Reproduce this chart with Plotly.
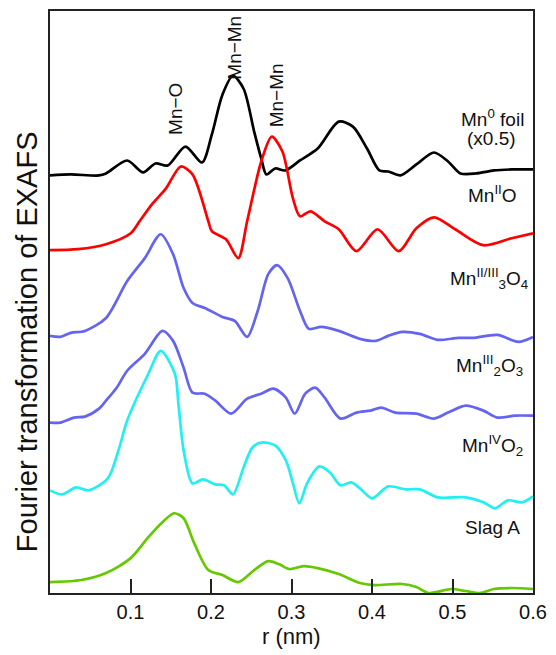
import plotly.graph_objects as go

# r (nm) values and FT magnitudes (arbitrary units, offset stacked)
r_foil = [0.0, 0.0258, 0.0609, 0.0696, 0.0959, 0.1156, 0.131, 0.1463, 0.1682, 0.1888, 0.201, 0.2142,
          0.2273, 0.2405, 0.2536, 0.2624, 0.2689, 0.2799, 0.2922, 0.3106, 0.3325, 0.3587, 0.3763,
          0.3938, 0.4091, 0.4201, 0.4354, 0.4551, 0.477, 0.4945, 0.5098, 0.5296, 0.5515, 0.5734, 0.6]
y_foil = [419, 420, 419, 421, 434, 422, 431, 429, 448, 432, 460, 500,
          519, 506, 463, 436, 420, 426, 424, 434, 446, 473, 468,
          446, 424, 423, 419, 430, 442, 433, 421, 421, 424, 425, 425]

r_mno = [0.0, 0.0346, 0.0696, 0.1003, 0.1113, 0.1266, 0.1441, 0.1625, 0.177, 0.1967, 0.201, 0.2186,
         0.2339, 0.2449, 0.2624, 0.2755, 0.2887, 0.3018, 0.3106, 0.3237, 0.3412, 0.3587, 0.3806,
         0.4069, 0.4332, 0.4551, 0.477, 0.5033, 0.5383, 0.5734, 0.6]
y_mno = [344, 345, 350, 361, 373, 390, 406, 428, 420, 373, 363, 355,
         336, 373, 433, 458, 443, 396, 378, 383, 373, 365, 343,
         365, 343, 366, 377, 365, 349, 356, 361]

r_mn3o4 = [0.0, 0.0127, 0.0258, 0.0434, 0.0696, 0.0959, 0.1178, 0.1375, 0.1529, 0.166, 0.177, 0.1923,
           0.2142, 0.2295, 0.2449, 0.258, 0.2711, 0.2821, 0.2952, 0.3106, 0.3215, 0.3368, 0.3587,
           0.385, 0.4047, 0.4201, 0.4376, 0.4595, 0.4814, 0.5077, 0.5252, 0.5558, 0.5821, 0.6]
y_mn3o4 = [258, 257, 261, 263, 276, 313, 336, 360, 340, 306, 291, 286,
           277, 273, 257, 283, 320, 329, 316, 283, 265, 267, 263,
           255, 253, 258, 262, 260, 254, 256, 256, 259, 252, 257]

r_mn2o3 = [0.0, 0.0127, 0.030, 0.0434, 0.0609, 0.0696, 0.0828, 0.0959, 0.1178, 0.1397, 0.1529, 0.166,
           0.177, 0.1923, 0.2054, 0.2251, 0.2449, 0.2624, 0.2777, 0.293, 0.304, 0.3171, 0.3294,
           0.3412, 0.3609, 0.3806, 0.3982, 0.4113, 0.4288, 0.4551, 0.4770, 0.4945, 0.5164, 0.5383,
           0.5558, 0.5777, 0.6]
y_mn2o3 = [171, 171, 176, 177, 185, 193, 206, 223, 240, 263, 253, 226,
           201, 200, 193, 180, 195, 200, 205, 196, 180, 200, 206,
           196, 175, 181, 183, 186, 181, 180, 175, 181, 188, 183,
           176, 178, 178]

r_mno2 = [0.0, 0.0149, 0.0324, 0.0477, 0.0718, 0.085, 0.0959, 0.1222, 0.1375, 0.1551, 0.1595, 0.166,
          0.177, 0.1901, 0.2054, 0.2164, 0.2273, 0.2405, 0.2514, 0.2624, 0.2799, 0.293, 0.3018,
          0.3097, 0.3193, 0.3346, 0.3478, 0.3609, 0.3741, 0.385, 0.4003, 0.4201, 0.442, 0.4595,
          0.4814, 0.5164, 0.5383, 0.5528, 0.569, 0.5865, 0.6]
y_mno2 = [103, 99, 106, 103, 115, 143, 173, 220, 243, 220, 190, 143,
          110, 114, 109, 108, 99, 126, 146, 151, 148, 133, 110,
          90, 110, 127, 121, 108, 111, 105, 95, 107, 104, 104,
          96, 96, 91, 85, 93, 91, 97]

r_slag = [0.0, 0.039, 0.0696, 0.1003, 0.1222, 0.1397, 0.1542, 0.166, 0.1791, 0.1967, 0.2142, 0.2339,
          0.2536, 0.2711, 0.2843, 0.2974, 0.3149, 0.3325, 0.3587, 0.385, 0.4025, 0.4376, 0.4551,
          0.4704, 0.4989, 0.5164, 0.5339, 0.5515, 0.5734, 0.6]
y_slag = [11, 13, 20, 35, 56, 71, 80, 75, 50, 23, 18, 11,
          23, 32, 29, 24, 27, 25, 19, 10, 8, 9, 6,
          0, 4, 2, 0, 4, 5, 4]

tick_vals = [0.1, 0.2, 0.3, 0.4, 0.5, 0.6]
tick_text = ["0.1", "0.2", "0.3", "0.4", "0.5", "0.6"]

series = [
    (r_foil, y_foil, "#000000"),
    (r_mno, y_mno, "#ff0000"),
    (r_mn3o4, y_mn3o4, "#6464f0"),
    (r_mn2o3, y_mn2o3, "#6464f0"),
    (r_mno2, y_mno2, "#22f0f0"),
    (r_slag, y_slag, "#66c800"),
]

FONT = "Liberation Sans, Arial, sans-serif"

fig = go.Figure()
for xs, ys, c in series:
    fig.add_trace(go.Scatter(x=xs, y=ys, mode="lines",
                             line=dict(color=c, width=2.7, shape="spline", smoothing=0.8),
                             hoverinfo="skip", showlegend=False))

labels = [
    ("Mn<sup>0</sup> foil", 0.591, 477, "right"),
    ("(x0.5)", 0.515, 456, "left"),
    ("Mn<sup>II</sup>O", 0.583, 400, "right"),
    ("Mn<sup>II/III</sup><sub>3</sub>O<sub>4</sub>", 0.596, 316, "right"),
    ("Mn<sup>III</sup><sub>2</sub>O<sub>3</sub>", 0.590, 228, "right"),
    ("Mn<sup>IV</sup>O<sub>2</sub>", 0.590, 148, "right"),
    ("Slag A", 0.586, 66, "right"),
]
annotations = []
for t, x, y, xa in labels:
    annotations.append(dict(text=t, x=x, y=y, xref="x", yref="y", xanchor=xa, yanchor="middle",
                            showarrow=False, font=dict(family=FONT, size=19, color="#111")))

peaks = [("Mn−O", 0.1556, 486), ("Mn−Mn", 0.2296, 547), ("Mn−Mn", 0.2815, 499)]
for t, x, y in peaks:
    annotations.append(dict(text=t, x=x, y=y, xref="x", yref="y", xanchor="center", yanchor="middle",
                            textangle=-90, showarrow=False, font=dict(family=FONT, size=19, color="#111")))

annotations.append(dict(text="Fourier transformation of EXAFS", x=-0.047, y=0.4315, xref="paper",
                        yref="paper", textangle=-90, showarrow=False, xanchor="center", yanchor="middle",
                        font=dict(family=FONT, size=29, color="#111")))
annotations.append(dict(text="r (nm)", x=0.5, y=-0.074, xref="paper", yref="paper", showarrow=False,
                        xanchor="center", yanchor="middle", font=dict(family=FONT, size=22, color="#111")))

fig.update_layout(
    width=556, height=655,
    margin=dict(l=50, r=19, t=9, b=62),
    paper_bgcolor="white", plot_bgcolor="white",
    annotations=annotations,
    xaxis=dict(range=[0, 0.6], tickvals=tick_vals, ticktext=tick_text, ticks="inside", ticklen=14,
               tickwidth=1.6, tickcolor="#222", showgrid=False, zeroline=False, showline=True,
               linecolor="#222", linewidth=2, mirror=True,
               tickfont=dict(family=FONT, size=20, color="#111")),
    yaxis=dict(range=[0, 584], showticklabels=False, ticks="", showgrid=False, zeroline=False,
               showline=True, linecolor="#222", linewidth=2, mirror=True),
)

fig.write_html("out.html")
